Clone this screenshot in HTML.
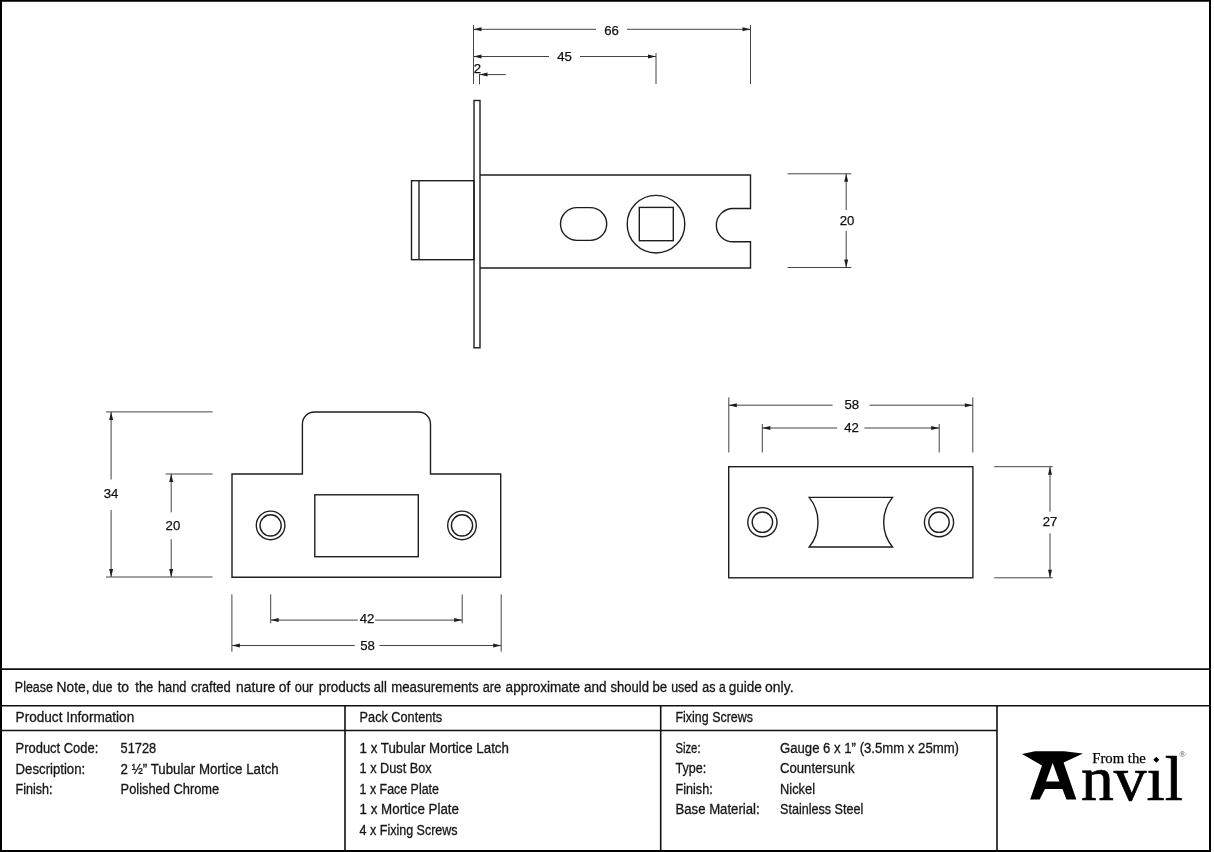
<!DOCTYPE html>
<html><head><meta charset="utf-8">
<style>
html,body{margin:0;padding:0;background:#fff;}
body{width:1214px;height:852px;overflow:hidden;}
svg{display:block;will-change:transform;}
.d{fill:none;stroke:#1e1e1e;stroke-width:1.4;}
.e{fill:none;stroke:#444;stroke-width:1;}
.ah{fill:#1e1e1e;stroke:none;}
.t{font-family:"Liberation Sans",sans-serif;font-size:14px;fill:#161616;stroke:#161616;stroke-width:0.3px;}
.n{font-family:"Liberation Sans",sans-serif;font-size:13.2px;fill:#111;stroke:#111;stroke-width:0.25px;text-anchor:middle;}
.b{fill:none;stroke:#111;stroke-width:1.6;}
</style></head>
<body>
<svg width="1214" height="852" viewBox="0 0 1214 852">
<!-- outer frame -->
<rect x="1" y="0.75" width="1209" height="850.25" fill="none" stroke="#000" stroke-width="2"/>

<!-- ===== TOP VIEW ===== -->
<g class="d">
  <rect x="474" y="100.5" width="6" height="247.3"/>
  <path d="M480,175 H750.5 V208.5 H733 A16.65,16.65 0 0 0 733,241.8 H750.5 V268 H480"/>
  <rect x="411.5" y="180.7" width="62.5" height="79"/>
  <line x1="419" y1="180.7" x2="419" y2="259.7"/>
  <rect x="560.5" y="207.6" width="46.2" height="32.8" rx="16.4" ry="16.4"/>
  <circle cx="656" cy="224.2" r="28.8"/>
  <rect x="639.3" y="207.4" width="34" height="33.3"/>
</g>
<g class="e">
  <line x1="473.5" y1="25" x2="473.5" y2="84"/>
  <line x1="750.5" y1="25" x2="750.5" y2="84"/>
  <line x1="656" y1="53" x2="656" y2="84"/>
  <line x1="479.5" y1="74" x2="479.5" y2="84.4"/>
  <line x1="473.5" y1="29.3" x2="596" y2="29.3"/>
  <line x1="627" y1="29.3" x2="750.5" y2="29.3"/>
  <line x1="473.5" y1="56.5" x2="549" y2="56.5"/>
  <line x1="580" y1="56.5" x2="656" y2="56.5"/>
  <line x1="479.5" y1="74.6" x2="505.8" y2="74.6"/>
  <!-- right 20 -->
  <line x1="787.6" y1="173.8" x2="851.3" y2="173.8"/>
  <line x1="787.6" y1="267.5" x2="851.3" y2="267.5"/>
  <line x1="846.2" y1="173.8" x2="846.2" y2="210"/>
  <line x1="846.2" y1="231" x2="846.2" y2="267.5"/>
</g>
<g class="ah">
  <path d="M473.5,29.3 l8,-2 v4z"/>
  <path d="M750.5,29.3 l-8,-2 v4z"/>
  <path d="M473.5,56.5 l8,-2 v4z"/>
  <path d="M656,56.5 l-8,-2 v4z"/>
  <path d="M479.5,74.6 l8,-2 v4z"/>
  <path d="M846.2,173.8 l-2,8 h4z"/>
  <path d="M846.2,267.5 l-2,-8 h4z"/>
</g>
<text class="n" x="611.5" y="35">66</text>
<text class="n" x="564.5" y="60.8">45</text>
<text class="n" x="477.3" y="72.6">2</text>
<text class="n" x="847" y="224.6">20</text>

<!-- ===== MORTICE PLATE ===== -->
<g class="d">
  <path d="M232,474 H302.4 V424 A12,12 0 0 1 314.4,412 H418.5 A12,12 0 0 1 430.5,424 V474 H500.7 V577.3 H232 Z"/>
  <rect x="314.8" y="494.8" width="103.5" height="61.9"/>
  <circle cx="270.6" cy="525.4" r="14.3"/>
  <circle cx="270.6" cy="525.4" r="10.6"/>
  <circle cx="462" cy="525.4" r="14.3"/>
  <circle cx="462" cy="525.4" r="10.6"/>
</g>
<g class="e">
  <line x1="106" y1="411.9" x2="212.5" y2="411.9"/>
  <line x1="165.5" y1="474" x2="212.5" y2="474"/>
  <line x1="106" y1="577" x2="212.5" y2="577"/>
  <line x1="111.1" y1="411.9" x2="111.1" y2="479.5"/>
  <line x1="111.1" y1="510" x2="111.1" y2="577"/>
  <line x1="171.2" y1="474" x2="171.2" y2="512.3"/>
  <line x1="171.2" y1="539.3" x2="171.2" y2="577"/>
  <line x1="231.9" y1="594.4" x2="231.9" y2="651.7"/>
  <line x1="501.2" y1="594.4" x2="501.2" y2="651.7"/>
  <line x1="270.7" y1="594.4" x2="270.7" y2="623.3"/>
  <line x1="462.2" y1="594.4" x2="462.2" y2="623.3"/>
  <line x1="231.9" y1="645.5" x2="354.7" y2="645.5"/>
  <line x1="379.4" y1="645.5" x2="501.2" y2="645.5"/>
  <line x1="270.7" y1="620.1" x2="357.8" y2="620.1"/>
  <line x1="374.9" y1="620.1" x2="462.2" y2="620.1"/>
</g>
<g class="ah">
  <path d="M111.1,411.9 l-2,8 h4z"/>
  <path d="M111.1,577 l-2,-8 h4z"/>
  <path d="M171.2,474 l-2,8 h4z"/>
  <path d="M171.2,577 l-2,-8 h4z"/>
  <path d="M231.9,645.5 l8,-2 v4z"/>
  <path d="M501.2,645.5 l-8,-2 v4z"/>
  <path d="M270.7,620.1 l8,-2 v4z"/>
  <path d="M462.2,620.1 l-8,-2 v4z"/>
</g>
<text class="n" x="111" y="497.5">34</text>
<text class="n" x="172.9" y="529.7">20</text>
<text class="n" x="367.5" y="649.7">58</text>
<text class="n" x="367" y="623.3">42</text>

<!-- ===== STRIKE PLATE ===== -->
<g class="d">
  <rect x="728.7" y="466.7" width="244.2" height="111.1"/>
  <path d="M809.2,497.4 H892.5 A39.3,39.3 0 0 0 892.5,547 H809.2 A39.3,39.3 0 0 0 809.2,497.4 Z"/>
  <circle cx="762.4" cy="522.2" r="14.6"/>
  <circle cx="762.4" cy="522.2" r="10.2"/>
  <circle cx="939" cy="522.2" r="14.6"/>
  <circle cx="939" cy="522.2" r="10.2"/>
</g>
<g class="e">
  <line x1="728.8" y1="397.4" x2="728.8" y2="452.4"/>
  <line x1="972.8" y1="397.4" x2="972.8" y2="452.4"/>
  <line x1="762.3" y1="424" x2="762.3" y2="452.4"/>
  <line x1="939.2" y1="424" x2="939.2" y2="452.4"/>
  <line x1="728.8" y1="405.2" x2="832.6" y2="405.2"/>
  <line x1="869.5" y1="405.2" x2="972.8" y2="405.2"/>
  <line x1="762.3" y1="428" x2="837.2" y2="428"/>
  <line x1="864.4" y1="428" x2="939.2" y2="428"/>
  <line x1="994.2" y1="466.7" x2="1052.7" y2="466.7"/>
  <line x1="994.2" y1="577.8" x2="1052.7" y2="577.8"/>
  <line x1="1050" y1="466.7" x2="1050" y2="511.6"/>
  <line x1="1050" y1="533.3" x2="1050" y2="577.8"/>
</g>
<g class="ah">
  <path d="M728.8,405.2 l8,-2 v4z"/>
  <path d="M972.8,405.2 l-8,-2 v4z"/>
  <path d="M762.3,428 l8,-2 v4z"/>
  <path d="M939.2,428 l-8,-2 v4z"/>
  <path d="M1050,466.7 l-2,8 h4z"/>
  <path d="M1050,577.8 l-2,-8 h4z"/>
</g>
<text class="n" x="851.8" y="409.1">58</text>
<text class="n" x="851.5" y="431.8">42</text>
<text class="n" x="1050" y="525.6">27</text>

<!-- ===== TABLE ===== -->
<g class="b">
  <line x1="0" y1="669.1" x2="1211" y2="669.1"/>
  <line x1="0" y1="705.8" x2="1211" y2="705.8"/>
  <line x1="0" y1="730.5" x2="997" y2="730.5"/>
  <line x1="345" y1="705.8" x2="345" y2="851"/>
  <line x1="660.7" y1="705.8" x2="660.7" y2="851"/>
  <line x1="997" y1="705.8" x2="997" y2="851"/>
</g>
<text class="t" x="14.85" y="691.7" textLength="38.08" lengthAdjust="spacingAndGlyphs">Please</text>
<text class="t" x="56.62" y="691.7" textLength="32.97" lengthAdjust="spacingAndGlyphs">Note,</text>
<text class="t" x="92.27" y="691.7" textLength="20.26" lengthAdjust="spacingAndGlyphs">due</text>
<text class="t" x="117.48" y="691.7" textLength="11.65" lengthAdjust="spacingAndGlyphs">to</text>
<text class="t" x="135.31" y="691.7" textLength="17.96" lengthAdjust="spacingAndGlyphs">the</text>
<text class="t" x="157.97" y="691.7" textLength="28.46" lengthAdjust="spacingAndGlyphs">hand</text>
<text class="t" x="190.90" y="691.7" textLength="40.01" lengthAdjust="spacingAndGlyphs">crafted</text>
<text class="t" x="236.07" y="691.7" textLength="39.27" lengthAdjust="spacingAndGlyphs">nature</text>
<text class="t" x="278.77" y="691.7" textLength="11.65" lengthAdjust="spacingAndGlyphs">of</text>
<text class="t" x="294.86" y="691.7" textLength="18.48" lengthAdjust="spacingAndGlyphs">our</text>
<text class="t" x="318.80" y="691.7" textLength="51.79" lengthAdjust="spacingAndGlyphs">products</text>
<text class="t" x="373.81" y="691.7" textLength="12.98" lengthAdjust="spacingAndGlyphs">all</text>
<text class="t" x="391.19" y="691.7" textLength="87.43" lengthAdjust="spacingAndGlyphs">measurements</text>
<text class="t" x="482.67" y="691.7" textLength="18.48" lengthAdjust="spacingAndGlyphs">are</text>
<text class="t" x="505.62" y="691.7" textLength="74.55" lengthAdjust="spacingAndGlyphs">approximate</text>
<text class="t" x="583.90" y="691.7" textLength="22.60" lengthAdjust="spacingAndGlyphs">and</text>
<text class="t" x="610.57" y="691.7" textLength="38.46" lengthAdjust="spacingAndGlyphs">should</text>
<text class="t" x="652.42" y="691.7" textLength="14.77" lengthAdjust="spacingAndGlyphs">be</text>
<text class="t" x="671.17" y="691.7" textLength="26.85" lengthAdjust="spacingAndGlyphs">used</text>
<text class="t" x="702.33" y="691.7" textLength="13.15" lengthAdjust="spacingAndGlyphs">as</text>
<text class="t" x="719.12" y="691.7" textLength="6.75" lengthAdjust="spacingAndGlyphs">a</text>
<text class="t" x="728.66" y="691.7" textLength="33.27" lengthAdjust="spacingAndGlyphs">guide</text>
<text class="t" x="765.07" y="691.7" textLength="28.47" lengthAdjust="spacingAndGlyphs">only.</text>
<text class="t" x="15.6" y="721.9" textLength="118.6" lengthAdjust="spacingAndGlyphs">Product Information</text>
<text class="t" x="359.6" y="722.1" textLength="82.6" lengthAdjust="spacingAndGlyphs">Pack Contents</text>
<text class="t" x="675.5" y="722.1" textLength="77.5" lengthAdjust="spacingAndGlyphs">Fixing Screws</text>

<text class="t" x="15.6" y="753.1" textLength="82.7" lengthAdjust="spacingAndGlyphs">Product Code:</text>
<text class="t" x="120.6" y="753.1" textLength="35.6" lengthAdjust="spacingAndGlyphs">51728</text>
<text class="t" x="15.6" y="774.1" textLength="69.6" lengthAdjust="spacingAndGlyphs">Description:</text>
<text class="t" x="120.6" y="774.1" textLength="158.1" lengthAdjust="spacingAndGlyphs">2 ½” Tubular Mortice Latch</text>
<text class="t" x="15.6" y="794.1" textLength="37" lengthAdjust="spacingAndGlyphs">Finish:</text>
<text class="t" x="120.6" y="794.1" textLength="98.6" lengthAdjust="spacingAndGlyphs">Polished Chrome</text>

<text class="t" x="359.6" y="753.0" textLength="149.3" lengthAdjust="spacingAndGlyphs">1 x Tubular Mortice Latch</text>
<text class="t" x="359.6" y="773.1" textLength="72" lengthAdjust="spacingAndGlyphs">1 x Dust Box</text>
<text class="t" x="359.6" y="793.5" textLength="79.3" lengthAdjust="spacingAndGlyphs">1 x Face Plate</text>
<text class="t" x="359.6" y="814.0" textLength="99.4" lengthAdjust="spacingAndGlyphs">1 x Mortice Plate</text>
<text class="t" x="359.6" y="834.8" textLength="98" lengthAdjust="spacingAndGlyphs">4 x Fixing Screws</text>

<text class="t" x="675.5" y="753.0" textLength="25" lengthAdjust="spacingAndGlyphs">Size:</text>
<text class="t" x="780" y="753.0" textLength="179" lengthAdjust="spacingAndGlyphs">Gauge 6 x 1” (3.5mm x 25mm)</text>
<text class="t" x="675.5" y="773.1" textLength="30.7" lengthAdjust="spacingAndGlyphs">Type:</text>
<text class="t" x="780" y="773.1" textLength="74.5" lengthAdjust="spacingAndGlyphs">Countersunk</text>
<text class="t" x="675.5" y="793.5" textLength="37.2" lengthAdjust="spacingAndGlyphs">Finish:</text>
<text class="t" x="780" y="793.5" textLength="35" lengthAdjust="spacingAndGlyphs">Nickel</text>
<text class="t" x="675.5" y="814.0" textLength="84.1" lengthAdjust="spacingAndGlyphs">Base Material:</text>
<text class="t" x="780" y="814.0" textLength="83.3" lengthAdjust="spacingAndGlyphs">Stainless Steel</text>

<!-- ===== LOGO ===== -->
<path fill="#000" fill-rule="evenodd" d="M1022,754 L1035,751.3 L1064,751.3 L1083,753.5 L1063.6,762.5 L1076.3,799.6 L1066.4,799.6 L1062.5,789 L1045,789 L1039.6,799.6 L1030.1,799.6 L1042,765.5 Z M1052.7,763 L1059.4,781.6 L1046,781.6 Z"/>
<text x="1092.3" y="762.8" font-family="Liberation Serif" font-size="14.8" fill="#000" stroke="#000" stroke-width="0.25" textLength="53.5" lengthAdjust="spacingAndGlyphs">From the</text>
<text x="1081" y="799.6" font-family="Liberation Serif" font-size="63" fill="#000" stroke="#000" stroke-width="0.7" textLength="102" lengthAdjust="spacingAndGlyphs">nvıl</text>
<path fill="#000" d="M1156.3,756.7 l3,3 l-3,3 l-3,-3z"/>
<text x="1182.5" y="757" font-family="Liberation Serif" font-size="9" fill="#444" text-anchor="middle">®</text>
</svg>
</body></html>
